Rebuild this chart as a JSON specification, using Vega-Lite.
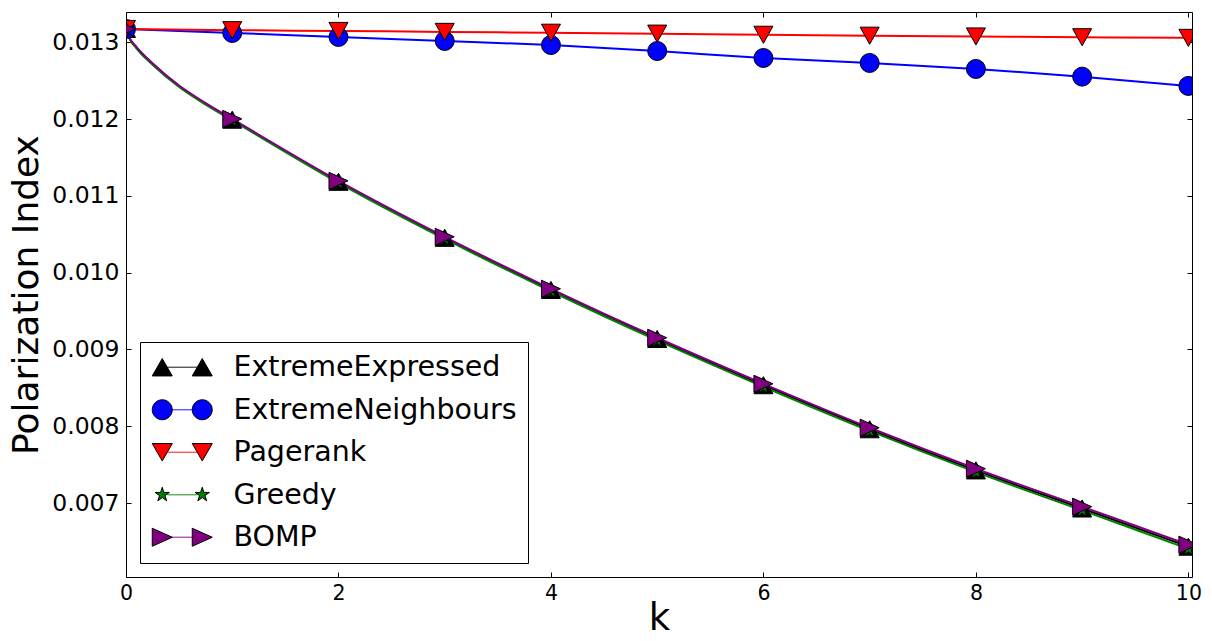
{
  "$schema": "https://vega.github.io/schema/vega-lite/v6.json",
  "width": 1066,
  "height": 565,
  "autosize": {"type": "none"},
  "padding": {"left": 126, "top": 12, "right": 20, "bottom": 64},
  "background": "white",
  "config": {
    "font": "DejaVu Sans",
    "view": {"stroke": "#000000", "strokeWidth": 1},
    "axis": {"labelFont": "DejaVu Sans", "titleFont": "DejaVu Sans", "labelColor": "#000", "titleColor": "#000", "tickColor": "#000", "domain": false, "grid": false, "titleFontWeight": "normal"},
    "legend": {"labelFont": "DejaVu Sans", "labelLimit": 500}
  },
  "data": {"values": [
    {"series": "ExtremeExpressed", "k": 0, "v": 0.013176},
    {"series": "ExtremeExpressed", "k": 0.03, "v": 0.01306},
    {"series": "ExtremeExpressed", "k": 0.1, "v": 0.01293},
    {"series": "ExtremeExpressed", "k": 0.25, "v": 0.01272},
    {"series": "ExtremeExpressed", "k": 0.5, "v": 0.01243},
    {"series": "ExtremeExpressed", "k": 0.75, "v": 0.0122},
    {"series": "ExtremeExpressed", "k": 1, "v": 0.011994},
    {"series": "ExtremeExpressed", "k": 2, "v": 0.011185},
    {"series": "ExtremeExpressed", "k": 3, "v": 0.010455},
    {"series": "ExtremeExpressed", "k": 4, "v": 0.009776},
    {"series": "ExtremeExpressed", "k": 5, "v": 0.009137},
    {"series": "ExtremeExpressed", "k": 6, "v": 0.008535},
    {"series": "ExtremeExpressed", "k": 7, "v": 0.007961},
    {"series": "ExtremeExpressed", "k": 8, "v": 0.007425},
    {"series": "ExtremeExpressed", "k": 9, "v": 0.006929},
    {"series": "ExtremeExpressed", "k": 10, "v": 0.006431},
    {"series": "ExtremeExpressed", "k": 10.03, "v": 0.006416},
    {"series": "ExtremeNeighbours", "k": 0, "v": 0.013176},
    {"series": "ExtremeNeighbours", "k": 1, "v": 0.013124},
    {"series": "ExtremeNeighbours", "k": 2, "v": 0.013072},
    {"series": "ExtremeNeighbours", "k": 3, "v": 0.01302},
    {"series": "ExtremeNeighbours", "k": 4, "v": 0.012967},
    {"series": "ExtremeNeighbours", "k": 5, "v": 0.012889},
    {"series": "ExtremeNeighbours", "k": 6, "v": 0.012798},
    {"series": "ExtremeNeighbours", "k": 7, "v": 0.012733},
    {"series": "ExtremeNeighbours", "k": 8, "v": 0.012655},
    {"series": "ExtremeNeighbours", "k": 9, "v": 0.012555},
    {"series": "ExtremeNeighbours", "k": 10, "v": 0.012434},
    {"series": "ExtremeNeighbours", "k": 10.03, "v": 0.01243},
    {"series": "Pagerank", "k": 0, "v": 0.013176},
    {"series": "Pagerank", "k": 1, "v": 0.01316},
    {"series": "Pagerank", "k": 2, "v": 0.01315},
    {"series": "Pagerank", "k": 3, "v": 0.013138},
    {"series": "Pagerank", "k": 4, "v": 0.013127},
    {"series": "Pagerank", "k": 5, "v": 0.013115},
    {"series": "Pagerank", "k": 6, "v": 0.0131},
    {"series": "Pagerank", "k": 7, "v": 0.013088},
    {"series": "Pagerank", "k": 8, "v": 0.013078},
    {"series": "Pagerank", "k": 9, "v": 0.013068},
    {"series": "Pagerank", "k": 10, "v": 0.01306},
    {"series": "Pagerank", "k": 10.03, "v": 0.01306},
    {"series": "Greedy", "k": 0, "v": 0.013176},
    {"series": "Greedy", "k": 0.03, "v": 0.01306},
    {"series": "Greedy", "k": 0.1, "v": 0.01292},
    {"series": "Greedy", "k": 0.25, "v": 0.01271},
    {"series": "Greedy", "k": 0.5, "v": 0.01242},
    {"series": "Greedy", "k": 0.75, "v": 0.01219},
    {"series": "Greedy", "k": 1, "v": 0.011985},
    {"series": "Greedy", "k": 2, "v": 0.011172},
    {"series": "Greedy", "k": 3, "v": 0.01044},
    {"series": "Greedy", "k": 4, "v": 0.009759},
    {"series": "Greedy", "k": 5, "v": 0.009118},
    {"series": "Greedy", "k": 6, "v": 0.008514},
    {"series": "Greedy", "k": 7, "v": 0.007939},
    {"series": "Greedy", "k": 8, "v": 0.007402},
    {"series": "Greedy", "k": 9, "v": 0.006904},
    {"series": "Greedy", "k": 10, "v": 0.006403},
    {"series": "Greedy", "k": 10.03, "v": 0.006388},
    {"series": "BOMP", "k": 0, "v": 0.013176},
    {"series": "BOMP", "k": 0.03, "v": 0.01307},
    {"series": "BOMP", "k": 0.1, "v": 0.01294},
    {"series": "BOMP", "k": 0.25, "v": 0.01273},
    {"series": "BOMP", "k": 0.5, "v": 0.01244},
    {"series": "BOMP", "k": 0.75, "v": 0.01221},
    {"series": "BOMP", "k": 1, "v": 0.012004},
    {"series": "BOMP", "k": 2, "v": 0.011197},
    {"series": "BOMP", "k": 3, "v": 0.010468},
    {"series": "BOMP", "k": 4, "v": 0.009791},
    {"series": "BOMP", "k": 5, "v": 0.009153},
    {"series": "BOMP", "k": 6, "v": 0.008553},
    {"series": "BOMP", "k": 7, "v": 0.007981},
    {"series": "BOMP", "k": 8, "v": 0.007447},
    {"series": "BOMP", "k": 9, "v": 0.006952},
    {"series": "BOMP", "k": 10, "v": 0.006457},
    {"series": "BOMP", "k": 10.03, "v": 0.006442}
  ]},
  "layer": [
    {
      "mark": {"type": "line", "strokeWidth": 2, "clip": true, "interpolate": "monotone"},
      "encoding": {
        "x": {"field": "k", "type": "quantitative",
          "scale": {"domain": [0, 10.034], "nice": false, "zero": false},
          "axis": {"orient": "bottom", "values": [0, 2, 4, 6, 8, 10], "format": "d", "labelFontSize": 20.5, "tickSize": -5, "labelPadding": 11, "labelFlush": false, "title": "k", "titleFontSize": 37, "titlePadding": -3}},
        "y": {"field": "v", "type": "quantitative",
          "scale": {"domain": [0.006036, 0.013397], "nice": false, "zero": false},
          "axis": {"orient": "left", "values": [0.007, 0.008, 0.009, 0.01, 0.011, 0.012, 0.013], "format": ".3f", "labelFontSize": 23.5, "tickSize": -5, "labelPadding": 12, "labelFlush": false, "title": "Polarization Index", "titleFontSize": 36, "titlePadding": 6}},
        "stroke": {"field": "series", "type": "nominal",
          "scale": {"domain": ["ExtremeExpressed", "ExtremeNeighbours", "Pagerank", "Greedy", "BOMP"], "range": ["#000000", "#0000ff", "#ff0000", "#008000", "#800080"]},
          "legend": {"title": null, "orient": "none", "legendX": 14, "legendY": 330, "padding": 11, "rowPadding": 13.5, "symbolOffset": 17, "labelOffset": 37, "labelFontSize": 28.5, "labelOpacity": 0, "symbolType": "M-1.5,0L1.5,0", "symbolSize": 400, "symbolStrokeWidth": 1.3, "symbolOpacity": 0.7, "strokeColor": null, "fillColor": null}}
      }
    },
    {
      "transform": [{"filter": "datum.k == floor(datum.k)"}],
      "mark": {"type": "point", "filled": true, "size": 361, "stroke": "#000", "strokeWidth": 1, "opacity": 1, "clip": true},
      "encoding": {
        "x": {"field": "k", "type": "quantitative",
          "axis": {"orient": "top", "values": [0, 2, 4, 6, 8, 10], "labels": false, "tickSize": -5, "title": null}},
        "y": {"field": "v", "type": "quantitative",
          "axis": {"orient": "right", "values": [0.007, 0.008, 0.009, 0.01, 0.011, 0.012, 0.013], "labels": false, "tickSize": -5, "title": null}},
        "fill": {"field": "series", "type": "nominal",
          "scale": {"domain": ["ExtremeExpressed", "ExtremeNeighbours", "Pagerank", "Greedy", "BOMP"], "range": ["#000000", "#0000ff", "#ff0000", "#008000", "#800080"]},
          "legend": null},
        "shape": {"field": "series", "type": "nominal",
          "scale": {"domain": ["ExtremeExpressed", "ExtremeNeighbours", "Pagerank", "Greedy", "BOMP"], "range": [
            "M0,-0.9L-1,0.9L1,0.9Z",
            "circle",
            "M0,0.9L-1,-0.9L1,-0.9Z",
            "M0,-0.8L0.179,-0.247L0.761,-0.247L0.29,0.094L0.47,0.647L0,0.305L-0.47,0.647L-0.29,0.094L-0.761,-0.247L-0.179,-0.247Z",
            "M1,0L-1,-0.9L-1,0.9Z"]},
          "legend": null}
      }
    },
    {
      "mark": {"type": "point", "filled": true, "size": 400, "stroke": "#000", "strokeWidth": 1, "opacity": 0, "clip": true},
      "encoding": {
        "x": {"field": "k", "type": "quantitative", "axis": null},
        "y": {"field": "v", "type": "quantitative", "axis": null},
        "fill": {"field": "series", "type": "nominal",
          "scale": {"domain": ["ExtremeExpressed", "ExtremeNeighbours", "Pagerank", "Greedy", "BOMP"], "range": ["#000000", "#0000ff", "#ff0000", "#008000", "#800080"]},
          "legend": {"title": null, "orient": "none", "legendX": 14, "legendY": 330, "padding": 11, "rowPadding": 13.5, "symbolOffset": 17, "labelOffset": 37, "labelFontSize": 28.5, "labelColor": "#000", "symbolSize": 400, "symbolOpacity": 1, "symbolStrokeColor": "#000", "symbolStrokeWidth": 1, "strokeColor": "#000", "fillColor": null,
            "encode": {"symbols": {"update": {"opacity": {"value": 1}}}}}},
        "shape": {"field": "series", "type": "nominal",
          "scale": {"domain": ["ExtremeExpressed", "ExtremeNeighbours", "Pagerank", "Greedy", "BOMP"], "range": [
            "M-2,-0.87L-3,0.87L-1,0.87Z M2,-0.87L1,0.87L3,0.87Z",
            "M-1,0A1,1 0 1,0 -3,0A1,1 0 1,0 -1,0Z M3,0A1,1 0 1,0 1,0A1,1 0 1,0 3,0Z",
            "M-2,0.87L-3,-0.87L-1,-0.87Z M2,0.87L1,-0.87L3,-0.87Z",
            "M-2,-0.75L-1.832,-0.232L-1.287,-0.232L-1.728,0.088L-1.559,0.607L-2,0.286L-2.441,0.607L-2.272,0.088L-2.713,-0.232L-2.168,-0.232Z M2,-0.75L2.168,-0.232L2.713,-0.232L2.272,0.088L2.441,0.607L2,0.286L1.559,0.607L1.728,0.088L1.287,-0.232L1.832,-0.232Z",
            "M-1,0L-3,-0.9L-3,0.9Z M3,0L1,-0.9L1,0.9Z"]},
          "legend": {"title": null, "orient": "none", "legendX": 14, "legendY": 330, "padding": 11, "rowPadding": 13.5, "symbolOffset": 17, "labelOffset": 37, "labelFontSize": 28.5, "labelColor": "#000", "symbolSize": 400, "symbolOpacity": 1, "strokeColor": "#000", "fillColor": null}}
      }
    }
  ],
  "resolve": {
    "scale": {"shape": "independent", "fill": "independent"},
    "axis": {"x": "independent", "y": "independent"},
    "legend": {"shape": "independent", "fill": "independent", "stroke": "independent"}
  }
}
